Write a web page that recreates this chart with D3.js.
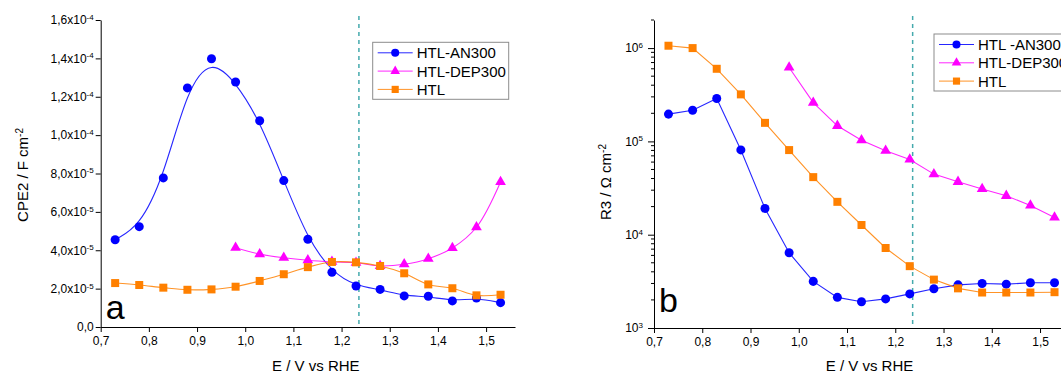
<!DOCTYPE html>
<html>
<head>
<meta charset="utf-8">
<script src="https://cdn.jsdelivr.net/npm/d3@7"></script>
<style>
  body { margin: 0; background: #fff; }
  svg { display: block; font-family: "Liberation Sans", Arial, sans-serif; }
</style>
</head>
<body>
<svg id="chart" width="1061" height="375"></svg>
<script>
// potentials (E / V vs RHE)
const potentials = [0.73, 0.78, 0.83, 0.88, 0.93, 0.98, 1.03, 1.08, 1.13, 1.18, 1.23, 1.28, 1.33, 1.38, 1.43, 1.48, 1.53];
const potentialsDEP = [0.98, 1.03, 1.08, 1.13, 1.18, 1.23, 1.28, 1.33, 1.38, 1.43, 1.48, 1.53];

// panel a: CPE2 / F cm-2
const cpeAN300 = [4.55e-5, 5.23e-5, 7.77e-5, 1.246e-4, 1.398e-4, 1.277e-4, 1.075e-4, 7.63e-5, 4.57e-5, 2.85e-5, 2.14e-5, 1.96e-5, 1.62e-5, 1.6e-5, 1.36e-5, 1.51e-5, 1.27e-5];
const cpeDEP300 = [4.13e-5, 3.8e-5, 3.61e-5, 3.48e-5, 3.4e-5, 3.35e-5, 3.18e-5, 3.27e-5, 3.56e-5, 4.12e-5, 5.2e-5, 7.56e-5];
const cpeHTL = [2.29e-5, 2.19e-5, 2.05e-5, 1.94e-5, 1.96e-5, 2.1e-5, 2.4e-5, 2.75e-5, 3.12e-5, 3.39e-5, 3.37e-5, 3.18e-5, 2.8e-5, 2.22e-5, 2.02e-5, 1.65e-5, 1.68e-5];

// panel b: R3 / Ohm cm-2
const r3AN300 = [1.96e5, 2.16e5, 2.88e5, 8.1e4, 1.91e4, 6.4e3, 3.16e3, 2.13e3, 1.91e3, 2.05e3, 2.32e3, 2.63e3, 2.9e3, 3.0e3, 2.95e3, 3.05e3, 3.05e3];
const r3DEP300 = [6.2e5, 2.6e5, 1.47e5, 1.03e5, 7.94e4, 6.4e4, 4.46e4, 3.69e4, 3.09e4, 2.61e4, 2.06e4, 1.53e4];
const r3HTL = [1.06e6, 1.0e6, 6.0e5, 3.19e5, 1.58e5, 8.07e4, 4.14e4, 2.25e4, 1.27e4, 7.2e3, 4.6e3, 3.3e3, 2.66e3, 2.4e3, 2.4e3, 2.4e3, 2.42e3];

// ticks
const xTicks = [0.7, 0.8, 0.9, 1.0, 1.1, 1.2, 1.3, 1.4, 1.5];
const xTickLabels = ['0,7', '0,8', '0,9', '1,0', '1,1', '1,2', '1,3', '1,4', '1,5'];
const cpeTicks = [0, 2e-5, 4e-5, 6e-5, 8e-5, 1e-4, 1.2e-4, 1.4e-4, 1.6e-4];
const cpeTickLabels = [['0,0', ''], ['2,0x10', '-5'], ['4,0x10', '-5'], ['6,0x10', '-5'], ['8,0x10', '-5'],
  ['1,0x10', '-4'], ['1,2x10', '-4'], ['1,4x10', '-4'], ['1,6x10', '-4']];
const r3Ticks = [1e3, 1e4, 1e5, 1e6];
const r3TickLabels = [['10', '3'], ['10', '4'], ['10', '5'], ['10', '6']];

const legendA = ['HTL-AN300', 'HTL-DEP300', 'HTL'];
const legendB = ['HTL -AN300', 'HTL-DEP300', 'HTL'];
const refPotential = 1.236;

const colors = ['#0000ff', '#ff00ff', '#ff8000'];
const symbols = [d3.symbolCircle, d3.symbolTriangle, d3.symbolSquare];
const symbolSizes = [64, 50, 64];

const svg = d3.select('#chart');

// write a label as text + superscript
function supText(sel, main, sup, supSize) {
  sel.text(null);
  sel.append('tspan').text(main);
  if (sup) {
    sel.append('tspan').attr('dy', '-0.55em').attr('font-size', supSize).text(sup);
  }
}

function drawPanel(cfg) {
  const g = svg.append('g');
  const x = d3.scaleLinear().domain([0.7, 1.56]).range(cfg.xRange);
  const y = cfg.y;
  const yTop = y.range()[1];
  const yBottom = y.range()[0];

  // dashed reference line
  g.append('line')
    .attr('x1', x(refPotential)).attr('x2', x(refPotential))
    .attr('y1', yTop - 4).attr('y2', yBottom)
    .attr('stroke', '#45aaad').attr('stroke-width', 1.5)
    .attr('stroke-dasharray', '4,4');

  // x axis
  const xAxis = g.append('g')
    .attr('transform', 'translate(0,' + yBottom + ')')
    .call(d3.axisBottom(x).tickValues(xTicks).tickSize(5).tickSizeOuter(0).tickPadding(4)
      .tickFormat((d, i) => xTickLabels[i]));
  xAxis.selectAll('text').attr('font-size', 12).attr('fill', '#000');
  xAxis.attr('font-family', null);

  // y axis
  const yAxis = g.append('g')
    .attr('transform', 'translate(' + cfg.xRange[0] + ',0)')
    .call(d3.axisLeft(y).tickValues(cfg.yTicks).tickSize(cfg.tickLen).tickSizeOuter(0).tickPadding(cfg.tickPad)
      .tickFormat(() => ''));
  yAxis.attr('font-family', null);
  yAxis.selectAll('.tick text').each(function (d, i) {
    const lab = cfg.yTickLabels[i];
    supText(d3.select(this).attr('font-size', 12).attr('fill', '#000'), lab[0], lab[1], 8);
  });

  // minor ticks (log axis)
  if (cfg.minor) {
    g.append('g').selectAll('line')
      .data(cfg.minor)
      .join('line')
      .attr('x1', cfg.xRange[0] - 3).attr('x2', cfg.xRange[0])
      .attr('y1', d => y(d)).attr('y2', d => y(d))
      .attr('stroke', '#000');
  }

  // axis titles
  g.append('text')
    .attr('x', (cfg.xRange[0] + cfg.xRange[1]) / 2 + 8)
    .attr('y', 371)
    .attr('text-anchor', 'middle')
    .attr('font-size', 15)
    .text('E / V vs RHE');
  const yt = g.append('text')
    .attr('transform', 'translate(' + cfg.yTitleX + ',' + cfg.yTitleY + ') rotate(-90)')
    .attr('text-anchor', 'middle')
    .attr('font-size', 15);
  supText(yt, cfg.yTitle, '-2', 10);

  // series
  cfg.series.forEach((s, k) => {
    const pts = s.xs.map((e, i) => [e, s.ys[i]]);
    g.append('path')
      .datum(pts)
      .attr('fill', 'none')
      .attr('stroke', colors[k])
      .attr('stroke-opacity', 0.85)
      .attr('stroke-width', 1.1)
      .attr('d', d3.line().curve(s.curve).x(d => x(d[0])).y(d => y(d[1])));
    g.append('g').selectAll('path')
      .data(pts)
      .join('path')
      .attr('transform', d => 'translate(' + x(d[0]) + ',' + y(d[1]) + ')')
      .attr('d', d3.symbol(symbols[k], symbolSizes[k]))
      .attr('fill', colors[k]);
  });

  // panel letter
  g.append('text')
    .attr('x', cfg.xRange[0] + 5)
    .attr('y', cfg.letterY)
    .attr('font-size', 34)
    .text(cfg.letter);

  // legend
  const lg = cfg.legend;
  g.append('rect')
    .attr('x', lg.x).attr('y', lg.y)
    .attr('width', lg.w).attr('height', lg.h)
    .attr('fill', '#fff').attr('stroke', '#8c8c8c').attr('stroke-width', 1);
  lg.labels.forEach((name, k) => {
    const ry = lg.y + 10.5 + k * 18.3;
    g.append('line')
      .attr('x1', lg.x + 5).attr('x2', lg.x + 40)
      .attr('y1', ry).attr('y2', ry)
      .attr('stroke', colors[k]).attr('stroke-opacity', 0.85);
    g.append('path')
      .attr('transform', 'translate(' + (lg.x + 22.5) + ',' + ry + ')')
      .attr('d', d3.symbol(symbols[k], symbolSizes[k] * 0.8))
      .attr('fill', colors[k]);
    g.append('text')
      .attr('x', lg.x + 44).attr('y', ry + 5.5)
      .attr('font-size', 15)
      .text(name);
  });
}

// panel a
drawPanel({
  xRange: [100.7, 515],
  y: d3.scaleLinear().domain([0, 1.6e-4]).range([327, 20]),
  yTicks: cpeTicks,
  yTickLabels: cpeTickLabels,
  tickLen: 5,
  tickPad: 2,
  yTitle: 'CPE2 / F cm',
  yTitleX: 28,
  yTitleY: 175,
  letter: 'a',
  letterY: 319,
  series: [
    { xs: potentials, ys: cpeAN300, curve: d3.curveBasis },
    { xs: potentialsDEP, ys: cpeDEP300, curve: d3.curveCatmullRom },
    { xs: potentials, ys: cpeHTL, curve: d3.curveCatmullRom }
  ],
  legend: { x: 372.7, y: 42.3, w: 136, h: 57, labels: legendA }
});

// panel b
const minorR3 = [];
[1e3, 1e4, 1e5, 1e6].forEach(dec => {
  for (let m = 2; m <= 9; m++) if (dec * m <= 2e6) minorR3.push(dec * m);
});
drawPanel({
  xRange: [654, 1069],
  y: d3.scaleLog().domain([1e3, 2e6]).range([328, 20]),
  yTicks: r3Ticks,
  yTickLabels: r3TickLabels,
  minor: minorR3,
  tickLen: 6,
  tickPad: 5,
  yTitle: 'R3 / \u03A9 cm',
  yTitleX: 611,
  yTitleY: 182,
  letter: 'b',
  letterY: 312,
  series: [
    { xs: potentials, ys: r3AN300, curve: d3.curveLinear },
    { xs: potentialsDEP, ys: r3DEP300, curve: d3.curveLinear },
    { xs: potentials, ys: r3HTL, curve: d3.curveLinear }
  ],
  legend: { x: 934, y: 34, w: 140, h: 57, labels: legendB }
});
</script>
</body>
</html>
